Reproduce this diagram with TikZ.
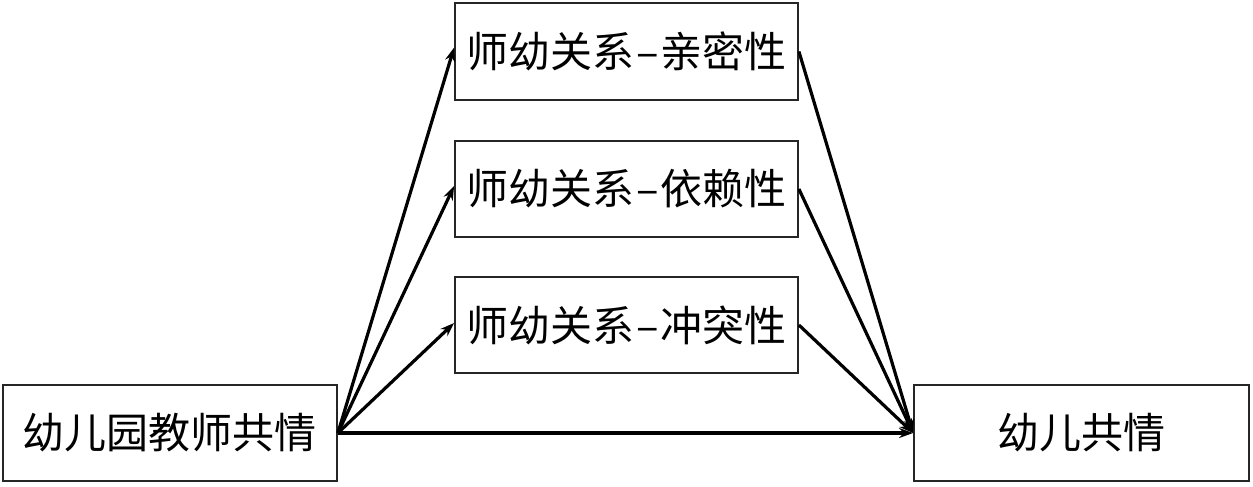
\documentclass[tikz,border=0pt]{standalone}
\usepackage{fontspec}
\newfontfamily\cjk{Noto Sans CJK SC}
\usetikzlibrary{arrows.meta}
\begin{document}
\begin{tikzpicture}[x=1pt,y=-1pt,
  box/.style={draw=black!85,line width=1.8pt,inner sep=0pt,font=\cjk\fontsize{42}{44}\selectfont},
  arr/.style={line width=3.2pt,-{Stealth[length=14pt,width=10pt]}}]
\useasboundingbox (0,0) rectangle (1253,487);
\node[box,minimum width=334pt,minimum height=96pt] (A) at (170,433) {幼儿园教师共情};
\node[box,minimum width=335pt,minimum height=96pt] (Y) at (1081.5,433) {幼儿共情};
\node[box,minimum width=343pt,minimum height=97pt] (M1) at (626.5,51.5) {师幼关系\kern2pt{}–\kern2pt{}亲密性};
\node[box,minimum width=343pt,minimum height=96pt] (M2) at (626.5,189) {师幼关系\kern2pt{}–\kern2pt{}依赖性};
\node[box,minimum width=343pt,minimum height=96pt] (M3) at (626.5,325) {师幼关系\kern2pt{}–\kern2pt{}冲突性};
\draw[arr] (A.east) -- ([yshift=4pt]M1.west);
\draw[arr] (A.east) -- ([yshift=3pt]M2.west);
\draw[arr] (A.east) -- ([yshift=2pt]M3.west);
\draw[arr] (M1.east) -- (Y.west);
\draw[arr] (M2.east) -- (Y.west);
\draw[arr] (M3.east) -- (Y.west);
\draw[arr] (A.east) -- (Y.west);
\end{tikzpicture}
\end{document}
